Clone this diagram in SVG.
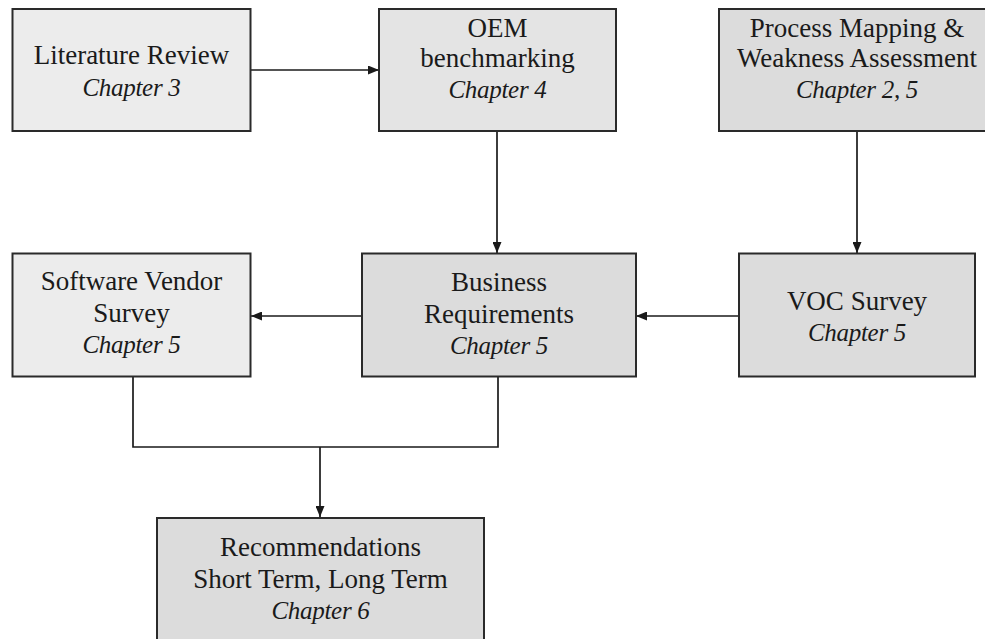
<svg xmlns="http://www.w3.org/2000/svg" width="985" height="639" viewBox="0 0 985 639">
  <style>
    .box { stroke: #2a2a2a; stroke-width: 2; }
    .light { fill: #ececec; }
    .mid { fill: #e4e4e4; }
    .dark { fill: #dcdcdc; }
    .label { font-family: "Liberation Serif", "Times New Roman", serif; font-size: 27px; fill: #1a1a1a; text-anchor: middle; }
    .ch { font-style: italic; font-size: 25px; letter-spacing: -0.3px; }
    .wire { fill: none; stroke: #1a1a1a; stroke-width: 1.7; }
  </style>
  <defs>
    <marker id="arrow" viewBox="0 0 11 9" refX="11" refY="4.5" markerWidth="11" markerHeight="9" markerUnits="userSpaceOnUse" orient="auto">
      <path d="M0,0 L11,4.5 L0,9 Z" fill="#1a1a1a"/>
    </marker>
  </defs>
  <rect width="985" height="639" fill="#ffffff"/>

  <g id="connectors">
    <path class="wire" d="M250,70 H379" marker-end="url(#arrow)"/>
    <path class="wire" d="M497,131 V253" marker-end="url(#arrow)"/>
    <path class="wire" d="M857,131 V253" marker-end="url(#arrow)"/>
    <path class="wire" d="M362,316 H251" marker-end="url(#arrow)"/>
    <path class="wire" d="M739,316 H636" marker-end="url(#arrow)"/>
    <path class="wire" d="M133,377 V447 H498 V377"/>
    <path class="wire" d="M320,447 V517" marker-end="url(#arrow)"/>
  </g>

  <g id="literature-review">
    <rect class="box light" x="12.5" y="9" width="238" height="122"/>
    <text class="label" x="131.5" y="64">Literature Review</text>
    <text class="label ch" x="131.5" y="96">Chapter 3</text>
  </g>

  <g id="oem-benchmarking">
    <rect class="box mid" x="379" y="9" width="237" height="122"/>
    <text class="label" x="497.5" y="37">OEM</text>
    <text class="label" x="497.5" y="67">benchmarking</text>
    <text class="label ch" x="497.5" y="98">Chapter 4</text>
  </g>

  <g id="process-mapping">
    <rect class="box dark" x="719" y="9" width="276" height="122"/>
    <text class="label" x="857" y="37">Process Mapping &amp;</text>
    <text class="label" x="857" y="67">Weakness Assessment</text>
    <text class="label ch" x="857" y="98">Chapter 2, 5</text>
  </g>

  <g id="software-vendor-survey">
    <rect class="box light" x="12.5" y="253.5" width="238" height="123"/>
    <text class="label" x="131.5" y="290">Software Vendor</text>
    <text class="label" x="131.5" y="322">Survey</text>
    <text class="label ch" x="131.5" y="353">Chapter 5</text>
  </g>

  <g id="business-requirements">
    <rect class="box dark" x="362" y="253.5" width="274" height="123"/>
    <text class="label" x="499" y="291">Business</text>
    <text class="label" x="499" y="323">Requirements</text>
    <text class="label ch" x="499" y="354">Chapter 5</text>
  </g>

  <g id="voc-survey">
    <rect class="box dark" x="739" y="253.5" width="236" height="123"/>
    <text class="label" x="857" y="310">VOC Survey</text>
    <text class="label ch" x="857" y="341">Chapter 5</text>
  </g>

  <g id="recommendations">
    <rect class="box dark" x="157" y="518" width="327" height="130"/>
    <text class="label" x="320.5" y="556">Recommendations</text>
    <text class="label" x="320.5" y="588">Short Term, Long Term</text>
    <text class="label ch" x="320.5" y="619">Chapter 6</text>
  </g>
</svg>
